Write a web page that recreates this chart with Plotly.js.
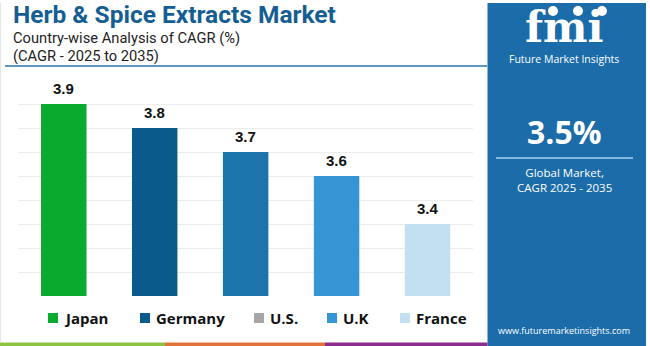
<!DOCTYPE html>
<html>
<head>
<meta charset="utf-8">
<script src="https://cdn.plot.ly/plotly-3.0.1.min.js"></script>
<style>
html,body{margin:0;padding:0;background:#fff;}
#chart{width:650px;height:346px;}
</style>
</head>
<body>
<div id="chart"></div>
<script>
// ---- data ----
const categories = ["Japan", "Germany", "U.S.", "U.K", "France"];
const values = [3.9, 3.8, 3.7, 3.6, 3.4];
const barColors = ["#0aaa2e", "#0a5a8c", "#1c74ad", "#3696d5", "#c3e0f0"];
const legendLabels = ["Japan", "Germany", "U.S.", "U.K", "France"];
const legendColors = ["#0aaa2e", "#0a5a8c", "#a6a6a6", "#3696d5", "#c3e0f0"];
const titleText = "Herb & Spice Extracts Market";
const subtitle1 = "Country-wise Analysis of CAGR (%)";
const subtitle2 = "(CAGR - 2025 to 2035)";
const globalValue = "3.5%";
const globalLabel = "Global Market,<br>CAGR 2025 - 2035";
const website = "www.futuremarketinsights.com";

// ---- helpers (pixel -> paper) ----
const W = 650, H = 346;
const px = x => x / W;
const py = y => 1 - y / H;
const FONT = "Open Sans, Roboto, sans-serif";
const TFONT = "Roboto, Open Sans, sans-serif";

const trace = {
  type: "bar",
  x: categories,
  y: values,
  marker: {color: barColors},
  width: 0.5,
  hoverinfo: "x+y",
  showlegend: false
};

const shapes = [];
const annotations = [];

// header underline
shapes.push({type:"line", xref:"paper", yref:"paper", x0:px(5), x1:px(487), y0:py(66), y1:py(66),
  line:{color:"#2a72a8", width:1.5}});
// right panel
shapes.push({type:"rect", xref:"paper", yref:"paper", x0:px(487.5), x1:px(646), y0:py(3), y1:py(346),
  fillcolor:"#1b6ca9", line:{width:0}, layer:"below"});
// divider line in panel
shapes.push({type:"line", xref:"paper", yref:"paper", x0:px(496), x1:px(633), y0:py(158), y1:py(158),
  line:{color:"#a9d0ee", width:1.5}});
// bottom strip
const strip = [["#8dc441", 0, 165], ["#e4733a", 165, 325], ["#8a2d8d", 325, 487.5]];
strip.forEach(s => shapes.push({type:"rect", xref:"paper", yref:"paper", x0:px(s[1]), x1:px(s[2]),
  y0:py(346), y1:py(342.5), fillcolor:s[0], line:{width:0}}));
// left faint border
shapes.push({type:"line", xref:"paper", yref:"paper", x0:px(0.5), x1:px(0.5), y0:py(3), y1:py(342),
  line:{color:"#e6e6e6", width:1}});

// titles
annotations.push({xref:"paper", yref:"paper", x:px(11), y:py(15), xanchor:"left", yanchor:"middle",
  text:"<b>"+titleText+"</b>", showarrow:false, font:{family:TFONT, size:24.5, color:"#155e93"}});
annotations.push({xref:"paper", yref:"paper", x:px(11), y:py(38.2), xanchor:"left", yanchor:"middle",
  text:subtitle1, showarrow:false, font:{family:TFONT, size:14.7, color:"#222"}});
annotations.push({xref:"paper", yref:"paper", x:px(11), y:py(56.5), xanchor:"left", yanchor:"middle",
  text:subtitle2, showarrow:false, font:{family:TFONT, size:14.7, color:"#222"}});

// bar value labels
categories.forEach((c, i) => annotations.push({xref:"x", yref:"y", x:c, y:values[i], yanchor:"bottom",
  yshift:5, text:"<b>"+values[i].toFixed(1)+"</b>", showarrow:false,
  font:{family:"Liberation Sans, Arial, sans-serif", size:15, color:"#111"}}));

// legend (manual)
const legendX = [48, 140, 254, 327, 400];
legendLabels.forEach((l, i) => {
  shapes.push({type:"rect", xref:"paper", yref:"paper", x0:px(legendX[i]), x1:px(legendX[i]+10),
    y0:py(323), y1:py(313), fillcolor:legendColors[i], line:{width:0}});
  annotations.push({xref:"paper", yref:"paper", x:px(legendX[i]+14), y:py(318), xanchor:"left", yanchor:"middle",
    text:"<b>"+l+"</b>", showarrow:false, font:{family:FONT, size:15, color:"#111"}});
});

// logo
annotations.push({xref:"paper", yref:"paper", x:px(564), y:py(28), xanchor:"center", yanchor:"middle",
  text:"<b>fmi</b>", showarrow:false, font:{family:"DejaVu Serif, serif", size:42, color:"#ffffff"}});
for (let yy = 13; yy <= 45; yy += 3.2) {
  shapes.push({type:"line", xref:"paper", yref:"paper", x0:px(510), x1:px(620), y0:py(yy), y1:py(yy),
    line:{color:"#1b6ca9", width:0.8}, layer:"above"});
}
// logo icons
[[553, 11], [578, 11], [602, 11]].forEach(c => shapes.push({type:"circle", xref:"paper", yref:"paper",
  x0:px(c[0]-5), x1:px(c[0]+5), y0:py(c[1]-5), y1:py(c[1]+5), fillcolor:"#ffffff", line:{width:0}}));
annotations.push({xref:"paper", yref:"paper", x:px(564), y:py(59), xanchor:"center", yanchor:"middle",
  text:"Future Market Insights", showarrow:false, font:{family:FONT, size:10.5, color:"#ffffff"}});

// panel texts
annotations.push({xref:"paper", yref:"paper", x:px(564), y:py(132), xanchor:"center", yanchor:"middle",
  text:"<b>"+globalValue+"</b>", showarrow:false, font:{family:FONT, size:32, color:"#ffffff"}});
annotations.push({xref:"paper", yref:"paper", x:px(564), y:py(180), xanchor:"center", yanchor:"middle",
  text:globalLabel, showarrow:false, font:{family:FONT, size:11.5, color:"#ffffff"}});
annotations.push({xref:"paper", yref:"paper", x:px(564), y:py(330), xanchor:"center", yanchor:"middle",
  text:website, showarrow:false, font:{family:FONT, size:9, color:"#ffffff"}});

const layout = {
  width: W, height: H,
  margin: {l:0, r:0, t:0, b:0},
  paper_bgcolor: "#ffffff",
  plot_bgcolor: "rgba(0,0,0,0)",
  showlegend: false,
  xaxis: {domain:[px(18.3), px(473)], showticklabels:false, ticks:"", showgrid:false, zeroline:false,
    showline:false, fixedrange:true},
  yaxis: {domain:[py(296), py(80)], range:[3.1, 4.0], dtick:0.1, tick0:3.1, showticklabels:false,
    ticks:"", gridcolor:"#ececec", gridwidth:1, zeroline:false, showline:false, fixedrange:true},
  bargap: 0.5,
  shapes: shapes,
  annotations: annotations
};

Plotly.newPlot("chart", [trace], layout, {displayModeBar:false, staticPlot:true});
</script>
</body>
</html>
